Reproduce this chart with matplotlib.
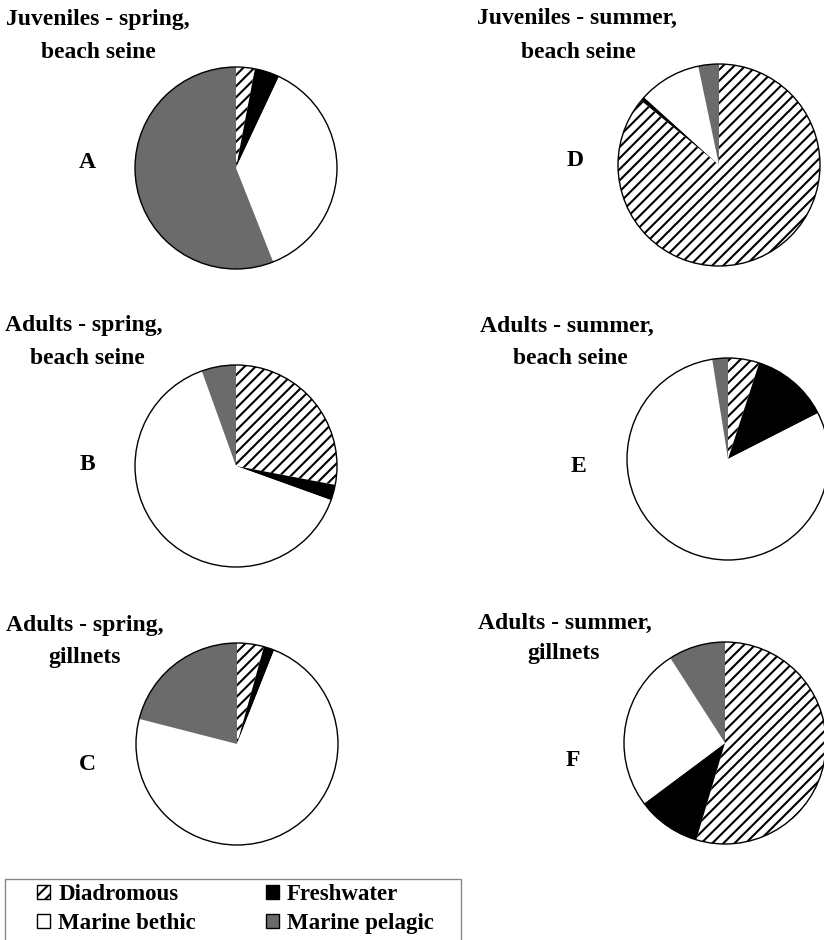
import matplotlib
matplotlib.use("Agg")
import matplotlib.pyplot as plt
from matplotlib.patches import Patch, Circle, Rectangle

plt.rcParams['font.family'] = ['Liberation Serif', 'DejaVu Serif']
plt.rcParams['font.weight'] = 'bold'
plt.rcParams['hatch.linewidth'] = 1.5

# guild shares (%), clockwise from 12 o'clock
categories = ['Diadromous', 'Freshwater', 'Marine bethic', 'Marine pelagic']
panel_letters = ['A', 'B', 'C', 'D', 'E', 'F']
titles = [
    ('Juveniles - spring,', 'beach seine'),
    ('Adults - spring,', 'beach seine'),
    ('Adults - spring,', 'gillnets'),
    ('Juveniles - summer,', 'beach seine'),
    ('Adults - summer,', 'beach seine'),
    ('Adults - summer,', 'gillnets'),
]
juv_spring_seine = [3.0, 4.0, 37.0, 56.0]
ad_spring_seine = [28.0, 2.5, 64.0, 5.5]
ad_spring_gill = [4.3, 1.7, 73.0, 21.0]
juv_summer_seine = [86.0, 0.7, 10.0, 3.3]
ad_summer_seine = [5.0, 12.5, 80.0, 2.5]
ad_summer_gill = [54.6, 10.2, 26.1, 9.1]
panels = [juv_spring_seine, ad_spring_seine, ad_spring_gill,
          juv_summer_seine, ad_summer_seine, ad_summer_gill]

colors = ['white', 'black', 'white', '#6b6b6b']
hatches = ['///', None, None, None]

W, H = 824, 940
fig = plt.figure(figsize=(W / 100, H / 100), dpi=100)
ax = fig.add_axes([0, 0, 1, 1])

# layout in pixels (x, y from top)
centers = [(236, 168), (236, 466), (237, 744), (719, 165), (728, 459), (725, 743)]
title_pos = [((98, 19), (98, 52)), ((84, 326), (87, 358)), ((85, 625), (85, 657)),
             ((577, 18), (578, 52)), ((567, 326), (570, 358)), ((565, 623), (564, 653))]
letter_pos = [(87, 163), (87, 465), (87, 765), (575, 160), (578, 467), (573, 760)]
R = 101

for vals, (cx, cy), (t1, t2), (lx, ly), letter, (l1, l2) in zip(
        panels, centers, title_pos, letter_pos, panel_letters, titles):
    wedges, _ = ax.pie(vals, center=(cx, H - cy), radius=R, startangle=90,
                       counterclock=False, colors=colors,
                       wedgeprops=dict(linewidth=0, edgecolor='black'))
    for w, h in zip(wedges, hatches):
        if h:
            w.set_hatch(h)
    ax.add_patch(Circle((cx, H - cy), R, fill=False, edgecolor='black', lw=1.0))
    ax.text(t1[0], H - t1[1], l1, ha='center', va='center', fontsize=17)
    ax.text(t2[0], H - t2[1], l2, ha='center', va='center', fontsize=17)
    ax.text(lx, H - ly, letter, ha='center', va='center', fontsize=17)

ax.set_xlim(0, W)
ax.set_ylim(0, H)
ax.set_aspect('equal')
ax.axis('off')

# legend
ax.add_patch(Rectangle((5, -10), 456, H - 879 + 10, fill=False,
                       edgecolor='#888888', lw=1.0))
handles = [Patch(facecolor=c, edgecolor='black', hatch=h, lw=1.0)
           for c, h in zip(colors, hatches)]
order = [0, 2, 1, 3]
ax.legend([handles[i] for i in order], [categories[i] for i in order],
          ncol=2, loc='upper left', bbox_to_anchor=(37, H - 884),
          bbox_transform=ax.transData, frameon=False, fontsize=16.5,
          handlelength=0.57, handleheight=0.57, handletextpad=0.35,
          labelspacing=0.36, columnspacing=3.05, borderpad=0, borderaxespad=0)

fig.savefig('out.png', dpi=100)
